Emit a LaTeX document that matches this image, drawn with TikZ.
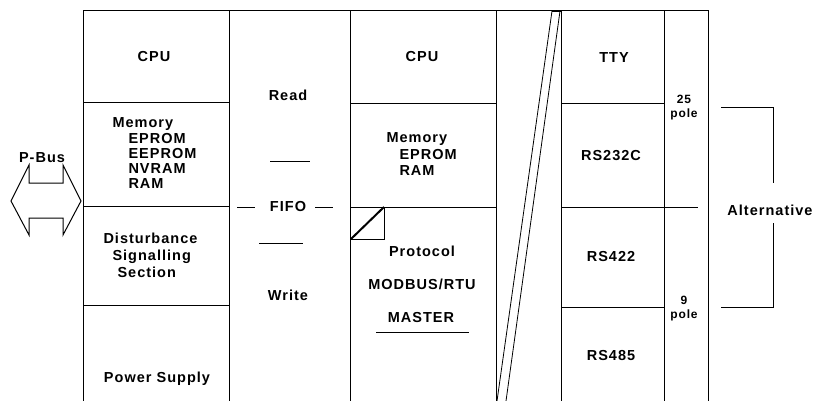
\documentclass[tikz,border=0pt]{standalone}
\usepackage{fontspec}
\setmainfont[LetterSpace=7]{Liberation Sans}
\begin{document}
\begin{tikzpicture}[x=1pt,y=-1pt,line width=1pt,
  lbl/.style={font=\fontsize{14.5}{15}\selectfont\bfseries,inner sep=0pt,anchor=base},
  lblw/.style={lbl,anchor=base west},
  sml/.style={font=\fontsize{12}{13}\selectfont\bfseries,inner sep=0pt,anchor=base},
  thin/.style={line width=0.8pt},
  thick2/.style={line width=2pt}]
\useasboundingbox (0,0) rectangle (814,401);
% frame
\draw (83,401) -- (83,11) -- (708,11) -- (708,401);
\foreach \x in {229,350,496,561,664} \draw (\x,11) -- (\x,401);
% column 1 rows
\foreach \y in {103,206,305} \draw (83,\y) -- (229,\y);
% column 3 rows
\foreach \y in {104,207} \draw (350,\y) -- (496,\y);
% column 5 rows
\draw (561,104) -- (664,104);
\draw (561,207) -- (698,207);
\draw (561,307) -- (664,307);
% slanted double line
\draw[thin] (552,11) -- (497,401);
\draw[thin] (560,11) -- (506,401);
\draw[thick2] (552,11) -- (561,11);
% small folded box
\draw (351,239) -- (384,239) -- (384,207);
\draw[thick2] (351,239) -- (384,207);
% FIFO lines
\draw (270,162) -- (310,162);
\draw (259,243) -- (303,243);
\draw (237,207) -- (255,207);
\draw (315,207) -- (333,207);
% MASTER underline
\draw (376,332) -- (469,332);
% P-Bus arrow
\draw (11,201) -- (29,165) -- (29,183) -- (63,183) -- (63,165) -- (81,201)
      -- (63,235) -- (63,218) -- (29,218) -- (29,235) -- cycle;
% Alternative bracket
\draw (721,108) -- (773,108) -- (773,183);
\draw (773,223) -- (773,307) -- (721,307);
% texts
\node[lbl] (pbus) at (42,162) {P-Bus};
\node[lbl] (cpu1) at (154,62) {CPU};
\node[lblw] (mem1) at (112,128) {Memory};
\node[lblw] (ep1) at (128,143) {EPROM};
\node[lblw] (eep1) at (128,158) {EEPROM};
\node[lblw] (nv1) at (128,173) {NVRAM};
\node[lblw] (ram1) at (128,188.5) {RAM};
\node[lblw] (dist) at (103,243) {Disturbance};
\node[lblw] (sig) at (112,260) {Signalling};
\node[lblw] (sec) at (117,277) {Section};
\node[lbl] (ps) at (157,382) {Power Supply};
\node[lbl] (read) at (288,100.5) {Read};
\node[lbl] (fifo) at (288,211) {FIFO};
\node[lbl] (write) at (288,300) {Write};
\node[lbl] (cpu2) at (422,61.5) {CPU};
\node[lblw] (mem2) at (386,142.5) {Memory};
\node[lblw] (ep2) at (399,159.5) {EPROM};
\node[lblw] (ram2) at (399,175.5) {RAM};
\node[lbl] (prot) at (422,256) {Protocol};
\node[lbl] (modbus) at (422,289.3) {MODBUS/RTU};
\node[lbl] (master) at (421,322.7) {MASTER};
\node[lbl] (tty) at (614,62.7) {TTY};
\node[lbl] (rs232) at (611,160.7) {RS232C};
\node[lbl] (rs422) at (611,261.7) {RS422};
\node[lbl] (rs485) at (611,360.7) {RS485};
\node[sml] (p25) at (684,104) {25};
\node[sml] (pole1) at (684,118) {pole};
\node[sml] (p9) at (684,304) {9};
\node[sml] (pole2) at (684,318.3) {pole};
\node[lbl] (alt) at (770,215) {Alternative};
\end{tikzpicture}
\end{document}
